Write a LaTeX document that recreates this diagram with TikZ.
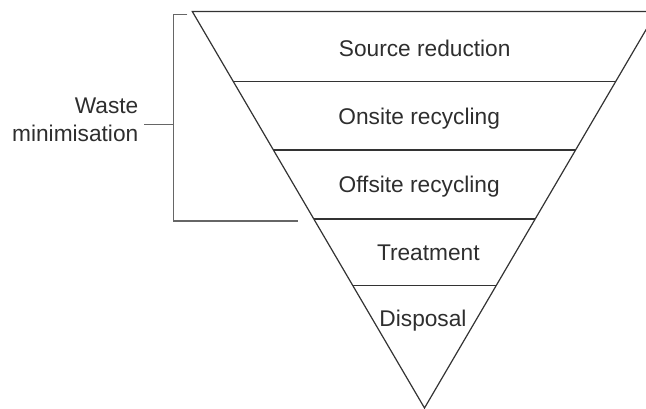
\documentclass[tikz,border=0pt]{standalone}
\usepackage{fontspec}
\setmainfont{Liberation Sans}
\usetikzlibrary{calc}
\begin{document}
\begin{tikzpicture}[x=1pt,y=-1pt,
  edge/.style={draw=black!80, line width=1.2pt},
  brk/.style={draw=black!60, line width=1.5pt},
  lbl/.style={inner sep=0pt, outer sep=0pt, anchor=base, text=black!82, font=\fontsize{22.7}{28.3}\selectfont}]
\useasboundingbox (0,0) rectangle (646,409);
\clip (0,0) rectangle (646,409);
% triangle
\coordinate (TL) at (192.3,11.5);
\coordinate (TR) at (656.7,11.5);
\coordinate (A) at (424.5,408);
\draw[edge, line join=miter] (TR) -- (TL) -- (A) -- cycle;
% level separators
\foreach \t/\n in {0.1765/1,0.3493/2,0.5233/3,0.6910/4}{
  \coordinate (L\n) at ($(TL)!\t!(A)$);
  \coordinate (R\n) at ($(TR)!\t!(A)$);
  \draw[edge] (L\n) -- (R\n);
}
% labels
\node[lbl] (s1) at (424.7,56.7) {Source reduction};
\node[lbl] (s2) at (419.2,124.7) {Onsite recycling};
\node[lbl] (s3) at (419.2,192.7) {Offsite recycling};
\node[lbl] (s4) at (428.3,260.7) {Treatment};
\node[lbl] (s5) at (423,326.7) {Disposal};
% bracket
\coordinate (b1) at (187.3,14.5);
\coordinate (b2) at (173.3,14.5);
\coordinate (b3) at (173.3,221);
\coordinate (b4) at (297.7,221);
\coordinate (bm) at (173.3,124.3);
\coordinate (bt) at (144,124.3);
\draw[brk] (b1) -- (b2) -- (b3) -- (b4);
\draw[brk] (bt) -- (bm);
\node[lbl, anchor=base east] (w1) at (138.3,113.3) {Waste};
\node[lbl, anchor=base east] (w2) at (138.3,141.7) {minimisation};
\end{tikzpicture}
\end{document}
